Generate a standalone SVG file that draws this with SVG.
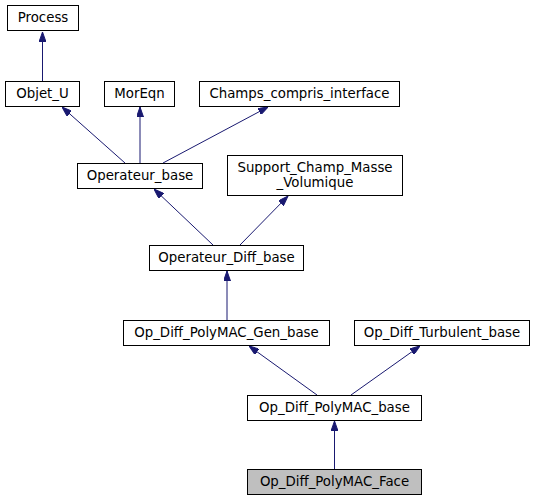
<svg xmlns="http://www.w3.org/2000/svg" width="536" height="500" viewBox="0 0 536 500">
<defs>
<style>
.n rect{fill:#ffffff;stroke:#000000;stroke-width:1}
.n text{font-family:"DejaVu Sans","Liberation Sans",sans-serif;font-size:13.33px;fill:#000000;text-anchor:middle}
#n_face rect{fill:#bfbfbf}
.e line{stroke:#191970;stroke-width:1;fill:none;marker-end:url(#arr)}
</style>
<marker id="arr" viewBox="0 0 10 7" refX="10" refY="3.5" markerWidth="10" markerHeight="7" markerUnits="userSpaceOnUse" orient="auto">
<path d="M0,0 L10,3.5 L0,7 Z" fill="#191970" stroke="#191970" stroke-width="1"/>
</marker>
</defs>
<rect width="536" height="500" fill="#ffffff"/>
<g id="edges" class="e">
<line x1="42.5" y1="81" x2="42.5" y2="32"/>
<line x1="125" y1="163" x2="62" y2="107"/>
<line x1="140" y1="163" x2="140" y2="107"/>
<line x1="163" y1="163" x2="268" y2="107"/>
<line x1="213" y1="245" x2="154" y2="189"/>
<line x1="240" y1="245" x2="288" y2="196"/>
<line x1="227" y1="320" x2="227" y2="271"/>
<line x1="317" y1="395" x2="249" y2="346"/>
<line x1="351" y1="395" x2="420" y2="346"/>
<line x1="334.5" y1="469" x2="334.5" y2="421"/>
</g>
<g id="n_process" class="n"><rect x="7.5" y="5.5" width="71" height="25"/><text x="43" y="22">Process</text></g>
<g id="n_objet_u" class="n"><rect x="5.5" y="81.5" width="74" height="25"/><text x="42.5" y="98">Objet_U</text></g>
<g id="n_moreqn" class="n"><rect x="104.5" y="81.5" width="70" height="25"/><text x="139.5" y="98">MorEqn</text></g>
<g id="n_champs" class="n"><rect x="199.5" y="81.5" width="200" height="25"/><text x="299.5" y="98">Champs_compris_interface</text></g>
<g id="n_operateur_base" class="n"><rect x="77.5" y="163.5" width="125" height="25"/><text x="140" y="180">Operateur_base</text></g>
<g id="n_support" class="n"><rect x="227.5" y="155.5" width="175" height="40"/><text x="315" y="172">Support_Champ_Masse</text><text x="315" y="186.5">_Volumique</text></g>
<g id="n_operateur_diff_base" class="n"><rect x="149.5" y="245.5" width="154" height="25"/><text x="226.5" y="262">Operateur_Diff_base</text></g>
<g id="n_gen_base" class="n"><rect x="123.5" y="320.5" width="206" height="25"/><text x="226.5" y="337">Op_Diff_PolyMAC_Gen_base</text></g>
<g id="n_turbulent" class="n"><rect x="354.5" y="320.5" width="175" height="25"/><text x="442" y="337">Op_Diff_Turbulent_base</text></g>
<g id="n_polymac_base" class="n"><rect x="247.5" y="395.5" width="174" height="25"/><text x="334.5" y="412">Op_Diff_PolyMAC_base</text></g>
<g id="n_face" class="n"><rect x="247.5" y="469.5" width="174" height="25"/><text x="334.5" y="486">Op_Diff_PolyMAC_Face</text></g>
</svg>
